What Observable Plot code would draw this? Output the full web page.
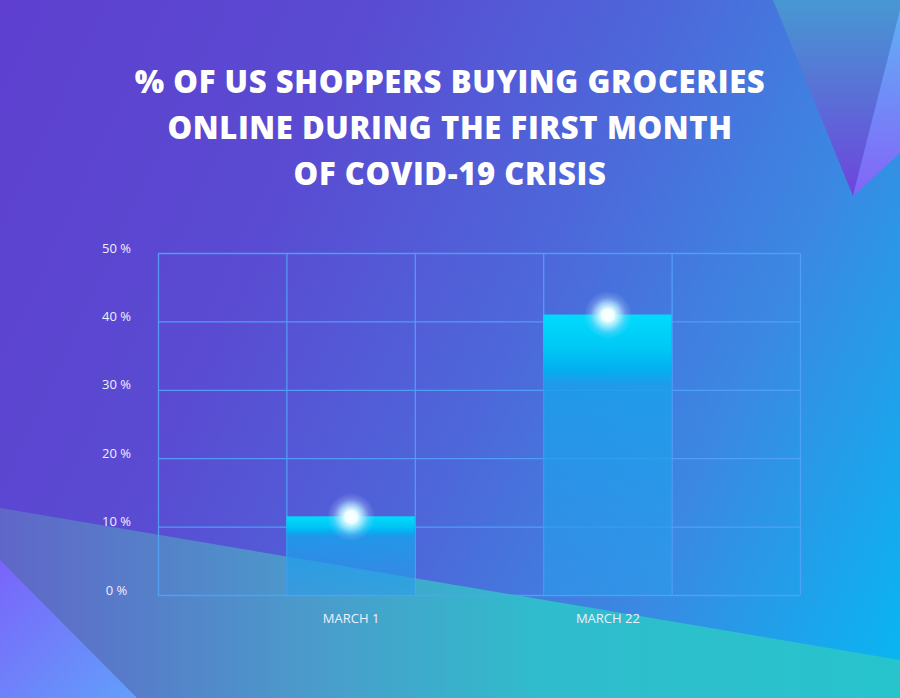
<!DOCTYPE html>
<html>
<head>
<meta charset="utf-8">
<script src="https://cdn.jsdelivr.net/npm/d3@7"></script>
<script src="https://cdn.jsdelivr.net/npm/@observablehq/plot@0.6"></script>
<style>
  html, body { margin: 0; padding: 0; }
  #card {
    position: relative; width: 900px; height: 698px; overflow: hidden;
    background: linear-gradient(115deg, #5e3fcf 0%, #5a4bd2 30%, #4d68da 55%, #3b88e2 75%, #06b8f2 100%);
    font-family: "Open Sans", "Lato", sans-serif;
  }
  #deco { position: absolute; left: 0; top: 0; }
  #title {
    position: absolute; left: 0; top: 0; width: 900px; height: 220px;
    box-sizing: border-box; padding-top: 58px;
    text-align: center; color: #ffffff; font-weight: 800;
    font-size: 31px; line-height: 46px; letter-spacing: 0.6px;
  }
  #chart { position: absolute; left: 0; top: 220px; }
</style>
</head>
<body>
<div id="card">
  <svg id="deco" width="900" height="698">
    <defs>
      <linearGradient id="bandGrad" x1="0" y1="0" x2="1" y2="0">
        <stop offset="0" stop-color="#6066c8"/>
        <stop offset="0.35" stop-color="#4a9ccb"/>
        <stop offset="0.6" stop-color="#30bccc"/>
        <stop offset="1" stop-color="#27c4cc"/>
      </linearGradient>
      <linearGradient id="blGrad" x1="0" y1="0" x2="1" y2="1">
        <stop offset="0" stop-color="#7a64fa"/>
        <stop offset="1" stop-color="#62a0fa"/>
      </linearGradient>
      <linearGradient id="t1Grad" x1="0" y1="0" x2="0" y2="1">
        <stop offset="0" stop-color="#4798d2"/>
        <stop offset="1" stop-color="#6e44dc"/>
      </linearGradient>
      <linearGradient id="t2Grad" x1="0" y1="0" x2="0" y2="1">
        <stop offset="0" stop-color="#60b0f6"/>
        <stop offset="1" stop-color="#8464f8"/>
      </linearGradient>
    </defs>
    <polygon points="0,508 900,660 900,698 0,698" fill="url(#bandGrad)"/>
    <polygon points="0,560 137,698 0,698" fill="url(#blGrad)"/>
    <polygon points="773,0 900,0 900,10 853,196" fill="url(#t1Grad)"/>
    <polygon points="853,196 900,10 900,153" fill="url(#t2Grad)"/>
  </svg>
  <div id="title">% OF US SHOPPERS BUYING GROCERIES<br>ONLINE DURING THE FIRST MONTH<br>OF COVID-19 CRISIS</div>
  <div id="chart"></div>
</div>
<script>
// ---- data ----
const categories = ["MARCH 1", "MARCH 22"];
const shares = [11.5, 41];            // % of US shoppers buying groceries online
const columnSlots = [1, 3];           // which column of the 5-column grid each bar occupies
const columnCount = 5;
const yTicks = [0, 10, 20, 30, 40, 50];

const data = categories.map((c, i) => ({category: c, value: shares[i], slot: columnSlots[i]}));
const gridColor = "#52a2f8";
const textColor = "#eef0ff";

const chart = Plot.plot({
  width: 900,
  height: 478,
  marginTop: 33,
  marginBottom: 103,
  marginLeft: 158,
  marginRight: 100,
  style: {background: "transparent", color: textColor, fontFamily: "'Open Sans', Lato, sans-serif", overflow: "visible"},
  x: {domain: [0, columnCount]},
  y: {domain: [0, 50]},
  marks: [
    Plot.gridX(d3.range(0, columnCount + 1), {stroke: gridColor, strokeOpacity: 0.9, strokeWidth: 1.3}),
    Plot.gridY(yTicks, {stroke: gridColor, strokeOpacity: 0.9, strokeWidth: 1.3}),
    Plot.rectY(data, {x1: "slot", x2: d => d.slot + 1, y: "value", fill: "url(#barGrad)"}),
    Plot.dot(data, {x: d => d.slot + 0.5, y: "value", r: 24, fill: "url(#glow)", stroke: null}),
    Plot.axisY(yTicks, {tickSize: 0, tickPadding: 42, textAnchor: "middle", dy: -5,
      tickFormat: d => `${d} %`, label: null, fill: textColor, fontSize: 13}),
    Plot.axisX(data.map(d => d.slot + 0.5), {tickSize: 0, tickPadding: 18,
      tickFormat: v => categories[columnSlots.indexOf(v - 0.5)], label: null, fill: textColor, fontSize: 13})
  ]
});

d3.select(chart).insert("defs", ":first-child").html(`
  <linearGradient id="barGrad" x1="0" y1="0" x2="0" y2="1">
    <stop offset="0" stop-color="#00dcfc"/>
    <stop offset="0.12" stop-color="#00c8f6"/>
    <stop offset="0.2" stop-color="#04aef0"/>
    <stop offset="0.25" stop-color="#1aa0ec" stop-opacity="0.85"/>
    <stop offset="1" stop-color="#2a9cea" stop-opacity="0.55"/>
  </linearGradient>
  <radialGradient id="glow" cx="0.5" cy="0.5" r="0.5">
    <stop offset="0" stop-color="#ffffff"/>
    <stop offset="0.25" stop-color="#f0ffff"/>
    <stop offset="0.5" stop-color="#b8f0ff" stop-opacity="0.75"/>
    <stop offset="0.75" stop-color="#c0d8ff" stop-opacity="0.25"/>
    <stop offset="1" stop-color="#c0d8ff" stop-opacity="0"/>
  </radialGradient>
`);

document.getElementById("chart").appendChild(chart);
</script>
</body>
</html>
